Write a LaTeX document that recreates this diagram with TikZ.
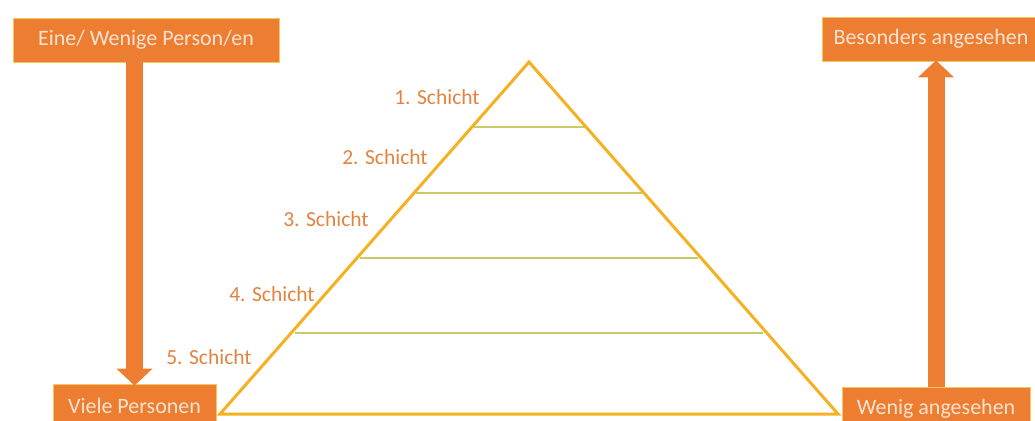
\documentclass[tikz,border=0pt]{standalone}
\usepackage{fontspec}
\setmainfont{Carlito}
\usetikzlibrary{arrows.meta}
\definecolor{boxorange}{HTML}{ED7D31}
\definecolor{boxtext}{HTML}{FBE3D2}
\definecolor{labelorange}{HTML}{E5823F}
\definecolor{tricol}{HTML}{F5B122}
\definecolor{layercol}{HTML}{C9C96A}
\definecolor{boxedge}{HTML}{F4C85A}
\tikzset{
  obox/.style={fill=boxorange, draw=boxedge, line width=0.7pt, text=boxtext,
    font=\fontsize{22}{24}\selectfont, inner sep=0pt},
  layerlabel/.style={text=labelorange, font=\fontsize{21.5}{24}\selectfont, inner sep=0pt},
  bigarrow/.style={draw=boxorange, line width=17pt,
    -{Triangle[width=35pt,length=17pt]}},
  tri/.style={draw=tricol, line width=3pt, line join=miter},
  layerline/.style={draw=layercol, line width=1.8pt}
}
\begin{document}
\begin{tikzpicture}[x=1pt,y=-1pt]
\useasboundingbox (0,0) rectangle (1035,420);
\clip (0,0) rectangle (1035,420);

% boxes
\node[obox, minimum width=266pt, minimum height=44pt] (top) at (146,40) {Eine/ Wenige Person/en};
\node[obox, minimum width=163pt, minimum height=44pt] (viele) at (134.5,406) {Viele Personen};
\node[obox, minimum width=218pt, minimum height=44pt] (bes) at (931,39) {Besonders angesehen};
\node[obox, minimum width=188pt, minimum height=44pt] (wen) at (936,409) {Wenig angesehen};

% arrows
\draw[bigarrow] (top.south -| viele.north) -- ([yshift=-2pt]viele.north);
\draw[bigarrow] (wen.north) -- ([yshift=1pt]wen.north |- bes.south);

% pyramid
\coordinate (apex) at (529,62);
\coordinate (bl) at (220,414);
\coordinate (br) at (838,414);
\draw[layerline] (473,127) -- (585,127);
\draw[layerline] (416,193) -- (642,193);
\draw[layerline] (360,258) -- (698,258);
\draw[layerline] (295,333) -- (763,333);
\draw[tri] (apex) -- (bl) -- (br) -- cycle;

% labels
\node[layerlabel] (l1) at (437,97) {1. Schicht};
\node[layerlabel] (l2) at (385,157) {2. Schicht};
\node[layerlabel] (l3) at (326,219) {3. Schicht};
\node[layerlabel] (l4) at (272,294) {4. Schicht};
\node[layerlabel] (l5) at (209,357) {5. Schicht};
\end{tikzpicture}
\end{document}
